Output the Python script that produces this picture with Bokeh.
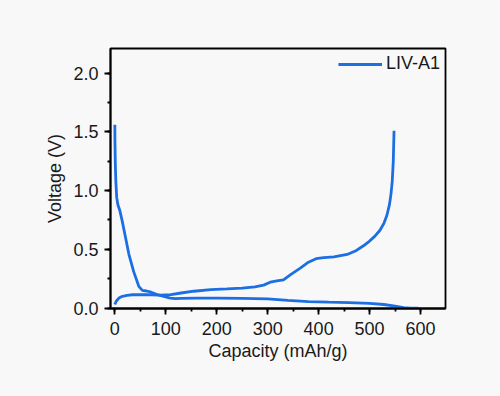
from bokeh.plotting import figure
from bokeh.models import Range1d, SingleIntervalTicker, Legend, NumeralTickFormatter
from bokeh.embed import file_html
from bokeh.resources import INLINE

# Discharge (lithiation) curve
discharge_capacity = [0, 0.3, 1, 2, 3.7, 6, 9.8, 14.5, 21, 27.5, 37, 47, 54, 62, 70, 83, 96, 109, 119,
                      130, 160, 200, 250, 300, 340, 380, 420, 460, 500, 528, 550, 567, 580, 596]
discharge_voltage = [1.56, 1.40, 1.22, 1.08, 0.94, 0.88, 0.83, 0.74, 0.60, 0.46, 0.31, 0.185, 0.150,
                     0.145, 0.137, 0.114, 0.100, 0.085, 0.080, 0.082, 0.085, 0.085, 0.083, 0.078,
                     0.065, 0.055, 0.050, 0.046, 0.040, 0.030, 0.017, 0.004, 0.0, 0.0]

# Charge (delithiation) curve
charge_capacity = [0, 3, 8, 15, 24, 35, 50, 70, 90, 110, 130, 155, 188, 220, 250, 275, 292, 305, 318,
                   331, 345, 364, 380, 395, 410, 430, 456, 472, 488, 500, 510, 520, 528, 534, 539,
                   542, 544.5, 546.5, 548]
charge_voltage = [0.03, 0.06, 0.085, 0.10, 0.108, 0.113, 0.114, 0.113, 0.110, 0.115, 0.128, 0.143,
                  0.157, 0.163, 0.170, 0.180, 0.195, 0.220, 0.232, 0.240, 0.285, 0.340, 0.390, 0.420,
                  0.430, 0.435, 0.456, 0.485, 0.530, 0.570, 0.610, 0.660, 0.720, 0.790, 0.880, 0.970,
                  1.080, 1.250, 1.510]

series_label = "LIV-A1"
x_label = "Capacity (mAh/g)"
y_label = "Voltage (V)"

BG = "#f8f8f8"
BLUE = "#1c6fe3"
TXT = "#1a1a1a"
FONT = "Liberation Sans"

p = figure(width=500, height=396, output_backend="svg", toolbar_location=None,
           x_range=Range1d(-8.5, 649), y_range=Range1d(-0.004, 2.21),
           min_border_left=110, min_border_right=55, min_border_top=48, min_border_bottom=88)
p.background_fill_color = BG
p.border_fill_color = BG
p.outline_line_color = "black"
p.outline_line_width = 1.8
p.xgrid.visible = False
p.ygrid.visible = False

r1 = p.line(discharge_capacity, discharge_voltage, line_color=BLUE, line_width=2.8)
r2 = p.line(charge_capacity, charge_voltage, line_color=BLUE, line_width=2.8)

p.xaxis.ticker = SingleIntervalTicker(interval=100, num_minor_ticks=2)
p.yaxis.ticker = SingleIntervalTicker(interval=0.5, num_minor_ticks=2)
p.yaxis.formatter = NumeralTickFormatter(format="0.0")

for ax in (p.xaxis[0], p.yaxis[0]):
    ax.axis_line_color = "black"
    ax.axis_line_width = 1.8
    ax.major_tick_line_color = "black"
    ax.major_tick_line_width = 1.8
    ax.minor_tick_line_color = "black"
    ax.minor_tick_line_width = 1.8
    ax.major_tick_in = 0
    ax.major_tick_out = 6
    ax.minor_tick_in = 0
    ax.minor_tick_out = 3
    ax.major_label_text_font = FONT
    ax.major_label_text_font_size = "18px"
    ax.major_label_text_color = TXT
    ax.axis_label_text_font = FONT
    ax.axis_label_text_font_size = "18px"
    ax.axis_label_text_font_style = "normal"
    ax.axis_label_text_color = TXT

p.xaxis.axis_label = x_label
p.yaxis.axis_label = y_label
p.xaxis.major_label_standoff = 7
p.yaxis.major_label_standoff = 6
p.xaxis.axis_label_standoff = 3
p.yaxis.axis_label_standoff = 5

legend = Legend(items=[(series_label, [r2])], location="top_right")
legend.background_fill_alpha = 0
legend.border_line_alpha = 0
legend.margin = 0
legend.padding = 5
legend.spacing = 0
legend.glyph_width = 44
legend.glyph_height = 20
legend.label_standoff = 4
legend.label_text_font = FONT
legend.label_text_font_size = "18px"
legend.label_text_color = TXT
p.add_layout(legend)

html = file_html(p, INLINE)
html = html.replace("<head>", "<head><style>body{background:%s;}</style>" % BG, 1)
open("out.html", "w").write(html)
